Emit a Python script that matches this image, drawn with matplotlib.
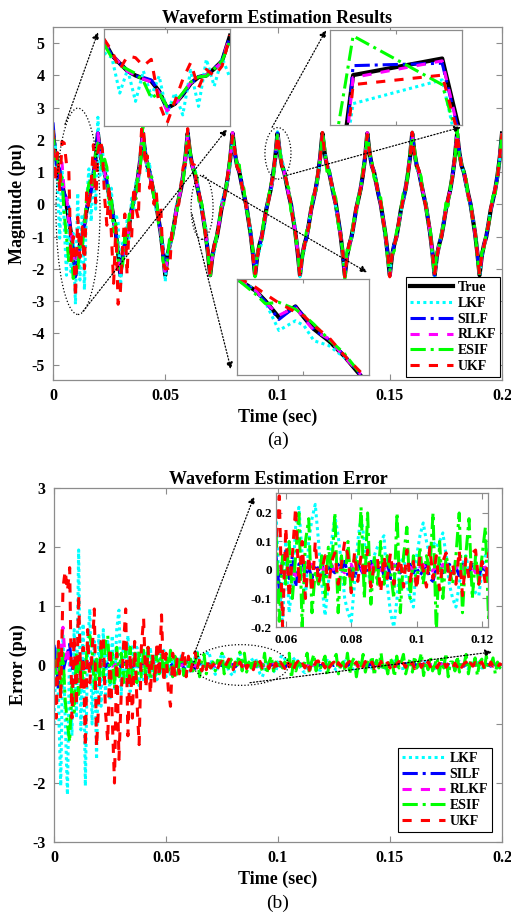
import matplotlib
matplotlib.use("Agg")
import matplotlib.pyplot as plt
import numpy as np
from matplotlib.patches import Ellipse

plt.rcParams['font.family'] = ['Liberation Serif', 'DejaVu Serif']
plt.rcParams['font.weight'] = 'bold'
plt.rcParams['axes.labelweight'] = 'bold'
plt.rcParams['axes.titleweight'] = 'bold'
plt.rcParams['axes.unicode_minus'] = False

# sample times (s), 1 ms step
t = np.round(np.arange(201) * 0.001, 3)

true_wave = [
    2.2, 1.6, 1.2, 1.0, 0.65, 0.3, 0.0, -0.45, -0.9, -1.5,
    -2.2, -1.6, -1.25, -1.0, -0.6, -0.16, 0.15, 0.47, 0.9, 1.45,
    2.2, 1.6, 1.2, 1.0, 0.65, 0.3, 0.0, -0.45, -0.9, -1.5,
    -2.2, -1.6, -1.25, -1.0, -0.6, -0.16, 0.15, 0.47, 0.9, 1.45,
    2.2, 1.6, 1.2, 1.0, 0.65, 0.3, 0.0, -0.45, -0.9, -1.5,
    -2.2, -1.6, -1.25, -1.0, -0.6, -0.16, 0.15, 0.47, 0.9, 1.45,
    2.2, 1.6, 1.2, 1.0, 0.65, 0.3, 0.0, -0.45, -0.9, -1.5,
    -2.2, -1.6, -1.25, -1.0, -0.6, -0.16, 0.15, 0.47, 0.9, 1.45,
    2.2, 1.6, 1.2, 1.0, 0.65, 0.3, 0.0, -0.45, -0.9, -1.5,
    -2.2, -1.6, -1.25, -1.0, -0.6, -0.16, 0.15, 0.47, 0.9, 1.45,
    2.2, 1.6, 1.2, 1.0, 0.65, 0.3, 0.0, -0.45, -0.9, -1.5,
    -2.2, -1.6, -1.25, -1.0, -0.6, -0.16, 0.15, 0.47, 0.9, 1.45,
    2.2, 1.6, 1.2, 1.0, 0.65, 0.3, 0.0, -0.45, -0.9, -1.5,
    -2.2, -1.6, -1.25, -1.0, -0.6, -0.16, 0.15, 0.47, 0.9, 1.45,
    2.2, 1.6, 1.2, 1.0, 0.65, 0.3, 0.0, -0.45, -0.9, -1.5,
    -2.2, -1.6, -1.25, -1.0, -0.6, -0.16, 0.15, 0.47, 0.9, 1.45,
    2.2, 1.6, 1.2, 1.0, 0.65, 0.3, 0.0, -0.45, -0.9, -1.5,
    -2.2, -1.6, -1.25, -1.0, -0.6, -0.16, 0.15, 0.47, 0.9, 1.45,
    2.2, 1.6, 1.2, 1.0, 0.65, 0.3, 0.0, -0.45, -0.9, -1.5,
    -2.2, -1.6, -1.25, -1.0, -0.6, -0.16, 0.15, 0.47, 0.9, 1.45,
    2.2,
]

# estimation error of each filter (pu)
err_lkf = [
    -1.0, 0.3, -0.6, -2.05, 0.5, -0.9, -2.2, 0.4, -1.2, 0.6,
    -0.9, 1.95, -1.1, 0.7, -2.05, 0.3, 0.95, -1.0, 0.4, -1.6,
    0.5, -0.7, 0.6, -0.5, 0.4, -0.6, 0.5, -0.4, 0.6, 0.93,
    -0.5, 0.4, -0.3, 0.5, -0.45, 0.35, -0.3, 0.3, -0.35, 0.25,
    -0.3, 0.2, -0.25, 0.3, -0.2, 0.15, -0.25, 0.2, -0.15, 0.25,
    -0.2, 0.15, -0.2, 0.1, -0.15, 0.15, -0.1, 0.2, -0.05, -0.2,
    0.1, -0.15, -0.05, 0.15, 0.22, 0.05, -0.1, 0.1, 0.18, 0.23,
    0.1, -0.05, -0.16, -0.05, 0.1, 0.19, 0.12, 0.02, -0.1, -0.15,
    -0.18, -0.05, 0.1, 0.19, 0.1, 0.0, -0.05, 0.05, 0.08, 0.1,
    0.12, -0.05, -0.15, -0.2, -0.1, 0.02, 0.05, -0.05, -0.1, -0.13,
    0.05, 0.12, 0.165, 0.1, 0.05, 0.1, 0.08, 0.1, 0.13, 0.05,
    -0.05, -0.1, -0.13, -0.05, 0.02, 0.05, 0.0, -0.05, -0.08, -0.09,
    0.0, 0.05, 0.08, 0.06, 0.0, -0.05, -0.08, -0.06, 0.0, 0.04,
    0.07, 0.05, -0.02, -0.06, -0.07, -0.03, 0.03, 0.06, 0.05, 0.0,
    -0.05, -0.07, -0.04, 0.02, 0.06, 0.07, 0.03, -0.03, -0.06, -0.05,
    0.0, 0.05, 0.07, 0.04, -0.02, -0.06, -0.06, -0.01, 0.04, 0.06,
    0.04, -0.01, -0.05, -0.07, -0.03, 0.03, 0.06, 0.05, 0.0, -0.04,
    -0.06, -0.04, 0.01, 0.05, 0.06, 0.02, -0.03, -0.06, -0.05, 0.0,
    0.04, 0.06, 0.03, -0.02, -0.05, -0.06, -0.02, 0.03, 0.05, 0.04,
    -0.01, -0.05, -0.05, -0.01, 0.03, 0.05, 0.03, -0.02, -0.04, -0.04,
    0.0,
]
err_silf = [
    0.34, 0.1, -0.4, 0.1, -0.1, 0.05, 0.2, 0.35, -0.1, 0.05,
    -0.05, 0.1, -0.08, 0.06, -0.05, 0.04, 0.02, -0.06, 0.05, -0.03,
    0.02, 0.04, 0.08, -0.03, 0.02, -0.04, 0.03, 0.01, -0.02, 0.03,
    -0.03, 0.02, 0.04, -0.02, 0.01, -0.03, 0.02, 0.0, -0.02, 0.03,
    0.02, 0.05, -0.02, 0.03, -0.01, 0.02, -0.03, 0.02, 0.01, -0.02,
    0.02, -0.01, 0.03, -0.02, 0.01, 0.0, 0.03, 0.05, -0.07, 0.04,
    0.07, -0.03, 0.05, -0.06, 0.02, 0.04, -0.02, 0.01, -0.03, 0.02,
    0.0, 0.02, -0.02, 0.01, 0.0, -0.01, 0.02, 0.0, 0.03, -0.02,
    0.01, -0.03, 0.02, 0.0, -0.02, 0.01, 0.03, -0.01, 0.0, 0.02,
    -0.02, 0.03, -0.03, -0.03, 0.02, -0.01, 0.01, 0.0, 0.02, -0.01,
    0.01, -0.02, 0.0, 0.02, -0.03, -0.04, 0.01, 0.02, -0.01, 0.0,
    0.02, -0.01, 0.01, -0.02, 0.02, 0.0, -0.01, 0.02, 0.01, -0.02,
    0.01, 0.0, -0.02, 0.02, 0.01, -0.01, 0.0, 0.02, -0.02, 0.01,
    0.0, -0.01, 0.02, 0.01, -0.02, 0.0, 0.01, -0.01, 0.02, 0.0,
    -0.02, 0.01, 0.0, 0.02, -0.01, 0.01, -0.02, 0.0, 0.01, 0.02,
    -0.01, 0.0, 0.02, -0.02, 0.01, 0.0, -0.01, 0.02, 0.0, -0.01,
    0.01, 0.02, -0.01, 0.0, 0.01, -0.02, 0.02, 0.0, -0.01, 0.01,
    0.0, -0.02, 0.01, 0.02, -0.01, 0.0, 0.01, -0.01, 0.02, 0.0,
    -0.01, 0.01, 0.0, -0.02, 0.02, 0.01, -0.01, 0.0, 0.01, -0.01,
    0.02, 0.0, -0.01, 0.01, 0.0, -0.02, 0.01, 0.0, 0.01, -0.01,
    0.0,
]
err_rlkf = [
    0.0, -0.1, 0.3, 0.2, 0.64, 0.1, 0.3, -0.05, 0.15, 0.0,
    0.05, -0.03, 0.04, 0.0, -0.02, 0.03, 0.01, -0.02, 0.02, 0.0,
    0.01, -0.02, 0.02, 0.0, -0.01, 0.02, -0.02, 0.01, 0.0, 0.02,
    -0.01, 0.01, 0.02, -0.02, 0.0, 0.01, -0.01, 0.02, -0.01, 0.0,
    0.02, -0.01, 0.0, 0.01, -0.02, 0.01, 0.02, -0.01, 0.0, 0.01,
    -0.02, 0.01, 0.0, 0.02, -0.01, 0.0, 0.01, -0.01, 0.02, 0.0,
    -0.01, 0.02, 0.0, -0.02, 0.01, 0.0, 0.01, -0.01, 0.02, -0.01,
    0.0, 0.01, -0.01, 0.0, 0.02, -0.01, 0.01, 0.0, -0.01, 0.01,
    0.02, -0.01, 0.0, 0.01, -0.02, 0.0, 0.01, 0.02, -0.01, 0.0,
    0.01, -0.01, 0.0, 0.02, -0.01, 0.01, 0.0, -0.02, 0.01, 0.0,
    -0.01, 0.01, 0.02, 0.0, -0.01, 0.0, 0.01, -0.01, 0.02, 0.0,
    0.0, -0.01, 0.01, 0.0, 0.02, -0.01, 0.0, 0.01, -0.01, 0.01,
    0.0, 0.01, -0.01, 0.02, 0.0, -0.01, 0.01, 0.0, -0.02, 0.01,
    0.01, 0.0, -0.01, 0.01, 0.02, -0.01, 0.0, 0.01, -0.01, 0.0,
    0.02, -0.01, 0.0, 0.01, -0.01, 0.0, 0.01, 0.02, -0.01, 0.0,
    -0.01, 0.01, 0.0, -0.02, 0.01, 0.0, 0.01, -0.01, 0.0, 0.02,
    0.0, -0.01, 0.01, 0.0, -0.01, 0.02, 0.0, -0.01, 0.01, 0.0,
    0.01, 0.0, -0.02, 0.01, 0.0, 0.01, -0.01, 0.0, 0.02, -0.01,
    0.0, 0.01, -0.01, 0.0, 0.01, -0.02, 0.01, 0.0, -0.01, 0.01,
    0.02, 0.0, -0.01, 0.01, 0.0, -0.01, 0.01, 0.02, -0.01, 0.0,
    0.0,
]
err_esif = [
    0.1, -0.2, 0.3, -0.4, 0.2, -0.6, -1.0, -1.3, -0.3, -0.8,
    0.2, -0.5, 0.1, -0.3, -0.1, 0.4, 0.5, 0.3, -0.4, 0.1,
    -0.3, 0.3, -0.2, 0.4, 0.5, -0.3, 0.2, -0.4, 0.3, -0.2,
    0.2, -0.3, 0.25, -0.2, 0.3, -0.25, 0.2, -0.3, 0.25, -0.2,
    0.25, -0.2, 0.3, -0.25, 0.2, -0.2, 0.25, -0.15, 0.2, -0.25,
    0.2, -0.15, 0.25, -0.2, 0.15, -0.2, 0.05, 0.14, -0.18, 0.05,
    -0.05, 0.1, -0.1, 0.05, 0.2, -0.2, 0.1, 0.18, -0.15, 0.0,
    -0.05, 0.05, -0.1, 0.08, 0.0, 0.2, -0.15, 0.05, -0.05, 0.1,
    -0.08, 0.05, 0.0, 0.22, -0.1, 0.2, -0.12, 0.05, -0.05, 0.1,
    -0.05, 0.05, 0.0, -0.1, 0.2, -0.15, 0.05, 0.15, -0.1, 0.05,
    -0.05, 0.08, -0.05, 0.05, 0.0, 0.2, -0.22, 0.1, -0.1, 0.05,
    0.0, -0.05, 0.05, 0.2, -0.15, 0.05, 0.18, -0.1, 0.05, -0.05,
    0.05, 0.15, -0.18, 0.05, -0.05, 0.1, 0.18, -0.15, 0.0, 0.05,
    -0.1, 0.2, -0.15, 0.05, 0.12, -0.2, 0.05, -0.05, 0.18, -0.12,
    0.05, 0.0, 0.15, -0.18, 0.08, -0.05, 0.2, -0.1, 0.05, -0.15,
    0.12, 0.05, -0.2, 0.15, -0.05, 0.05, 0.18, -0.15, 0.0, 0.1,
    -0.12, 0.15, -0.05, 0.05, 0.2, -0.18, 0.05, -0.08, 0.15, -0.1,
    0.0, 0.12, -0.15, 0.1, -0.05, 0.2, -0.2, 0.05, 0.05, -0.1,
    0.15, -0.12, 0.05, 0.0, 0.18, -0.15, 0.08, -0.05, 0.12, -0.18,
    0.05, 0.1, -0.1, 0.15, -0.05, 0.0, 0.12, -0.15, 0.05, -0.05,
    0.05,
]
err_ukf = [
    0.1, -0.9, 0.4, -0.6, 1.3, 1.6, 1.25, 1.65, -0.9, 0.5,
    -0.7, 1.2, -0.4, 0.3, -1.4, 0.6, -0.3, 0.2, 0.95, -1.4,
    -0.6, 0.4, 0.5, -0.8, -1.3, 0.3, -0.9, -2.0, 0.2, -1.6,
    -0.5, 0.3, 0.95, -1.2, 0.2, -0.9, 0.4, -0.6, -1.35, 0.3,
    0.8, -0.4, 0.3, -0.5, 0.2, -0.3, 0.4, -0.2, 0.85, -0.3,
    0.2, -0.4, -0.7, 0.2, -0.2, 0.1, -0.15, 0.1, 0.26, -0.2,
    0.15, -0.1, 0.05, 0.22, -0.05, 0.1, -0.1, 0.05, -0.08, 0.1,
    -0.05, 0.0, 0.05, -0.07, 0.03, 0.06, -0.05, 0.02, 0.1, 0.05,
    -0.08, 0.06, -0.04, 0.05, -0.03, 0.07, -0.06, 0.02, 0.04, -0.08,
    0.05, -0.03, 0.06, -0.05, 0.0, 0.04, -0.06, 0.07, -0.04, 0.03,
    -0.07, 0.05, 0.0, -0.06, 0.08, -0.03, 0.05, -0.07, 0.03, 0.06,
    -0.04, 0.02, -0.05, 0.07, -0.09, 0.04, -0.03, 0.06, 0.07, -0.05,
    0.03, -0.05, 0.06, -0.04, 0.02, 0.05, -0.06, 0.04, -0.02, 0.05,
    -0.05, 0.03, 0.06, -0.04, 0.0, 0.05, -0.06, 0.03, -0.03, 0.06,
    -0.04, 0.02, 0.05, -0.06, 0.04, -0.02, 0.06, -0.05, 0.01, 0.04,
    -0.05, 0.05, -0.03, 0.02, 0.06, -0.05, 0.03, -0.04, 0.05, -0.02,
    0.04, -0.06, 0.03, 0.05, -0.04, 0.02, -0.05, 0.06, -0.03, 0.02,
    0.05, -0.05, 0.03, -0.02, 0.06, -0.04, 0.02, 0.04, -0.05, 0.03,
    -0.03, 0.05, -0.04, 0.02, 0.05, -0.05, 0.03, -0.02, 0.04, -0.04,
    0.02, 0.05, -0.04, 0.03, -0.03, 0.05, -0.02, 0.03, -0.04, 0.02,
    0.0,
]

# zoomed views shown in the three insets of panel (a)
z1_t = [0.002, 0.003, 0.004, 0.005, 0.006, 0.007, 0.008, 0.009, 0.010,
        0.011, 0.012, 0.013, 0.014, 0.015, 0.016, 0.017, 0.018]
z1_true = [1.22, 0.5, 0.1, -0.28, -0.5, -0.65, -0.78, -1.28, -2.12,
           -1.9, -1.45, -0.9, -0.58, -0.5, -0.17, 0.22, 1.47]
z1_lkf = [0.63, 0.38, -1.37, -0.2, -1.78, -0.28, -1.53, -0.53, -2.37,
          -1.37, -2.45, -0.25, -2.03, 0.3, -1.03, 0.38, -0.62]
z1_silf = [1.2, 0.48, 0.08, -0.25, -0.52, -0.6, -0.72, -1.3, -2.1,
           -1.88, -1.42, -0.92, -0.55, -0.52, -0.15, 0.25, 1.45]
z1_rlkf = [1.22, 0.52, 0.12, -0.3, -0.48, -0.68, -0.82, -1.35, -2.25,
           -1.95, -1.4, -0.88, -0.6, -0.48, -0.2, 0.2, 1.5]
z1_esif = [1.05, 0.38, 0.0, -0.2, -0.4, -0.78, -1.62, -1.37, -2.03,
           -1.83, -1.37, -0.83, -0.57, -0.53, -0.17, 0.22, 1.22]
z1_ukf = [1.3, 0.72, -0.2, 0.47, 0.38, -0.03, 0.3, -1.87, -2.87,
          -1.78, -0.7, 0.13, -1.12, -0.2, -0.53, -0.03, 1.5]

z2_t = [0.09908, 0.09923, 0.09935, 0.10070, 0.10095]
z2_true = [1.70, 2.00, 2.26, 2.33, 2.04]
z2_lkf = [1.66, 1.92, 2.14, 2.24, 1.93]
z2_silf = [1.60, 1.93, 2.30, 2.31, 2.02]
z2_rlkf = [1.60, 1.92, 2.25, 2.32, 2.02]
z2_esif = [1.97, 2.22, 2.425, 2.22, 1.98]
z2_ukf = [1.55, 1.89, 2.22, 2.26, 2.00]

z3_t = [0.06405, 0.06456, 0.06486, 0.06527, 0.06577,
        0.06603, 0.06633, 0.06678, 0.06724, 0.06775]
z3_true = [0.59, 0.43, 0.28, 0.04, 0.2, 0.04, -0.13, -0.3, -0.52, -0.81]
z3_lkf = [0.6, 0.43, 0.26, -0.15, -0.01, -0.08, -0.3, -0.37, -0.54, -0.76]
z3_silf = [0.58, 0.42, 0.27, 0.01, 0.2, 0.06, -0.14, -0.28, -0.51, -0.8]
z3_rlkf = [0.59, 0.44, 0.26, 0.07, 0.19, 0.02, -0.15, -0.27, -0.53, -0.79]
z3_esif = [0.58, 0.38, 0.24, 0.26, 0.16, 0.07, -0.06, -0.28, -0.48, -0.79]
z3_ukf = [0.62, 0.48, 0.38, 0.25, 0.12, 0.06, -0.08, -0.25, -0.51, -0.76]

names = ['LKF', 'SILF', 'RLKF', 'ESIF', 'UKF']
errors = [err_lkf, err_silf, err_rlkf, err_esif, err_ukf]
colors = ['#00ffff', '#0000ff', '#ff00ff', '#00ff00', '#ff0000']
styles = [(0, (1, 1.1)), (0, (5, 1.6, 1, 1.6)), (0, (3, 3)),
          (0, (5, 1.6, 1, 1.6)), (0, (3, 3))]

W, H = 511, 913
GRAY = '0.55'


def px_axes(x0, y0, x1, y1):
    return [x0 / W, 1 - y1 / H, (x1 - x0) / W, (y1 - y0) / H]


def style_axes(ax, labelsize=11.5):
    for s in ax.spines.values():
        s.set_color(GRAY)
        s.set_linewidth(0.9)
    ax.tick_params(which='both', direction='in', top=True, right=True,
                   length=4, color=GRAY, labelsize=labelsize, pad=6)


def zoom_inset(rect, tz, series, xlim, ylim):
    ax = fig.add_axes(rect, zorder=5)
    ax.plot(tz, series[0], color='black', lw=3)
    for vals, c, ls in zip(series[1:], colors, styles):
        ax.plot(tz, vals, color=c, ls=ls, lw=2.2)
    ax.set_xlim(*xlim)
    ax.set_ylim(*ylim)
    ax.set_xticks([sum(xlim) / 2])
    ax.set_yticks([])
    ax.set_xticklabels([])
    for s in ax.spines.values():
        s.set_color(GRAY)
        s.set_linewidth(0.9)
    ax.tick_params(direction='in', top=True, length=3, color=GRAY)
    return ax


def pointer(ax, start, end):
    ax.annotate('', xy=end, xytext=start, annotation_clip=False,
                arrowprops=dict(arrowstyle='-|>', ls=':', lw=0.9, color='black',
                                shrinkA=0, shrinkB=0, mutation_scale=10))


fig = plt.figure(figsize=(W / 100, H / 100), dpi=100)

# ---------- (a) waveform estimation ----------
ax1 = fig.add_axes(px_axes(53, 27, 502, 380))
true_arr = np.array(true_wave)
ax1.plot(t, true_arr, color='black', lw=3, label='True')
for name, err, c, ls in zip(names, errors, colors, styles):
    ax1.plot(t, true_arr + np.array(err), color=c, ls=ls, lw=2.2, label=name)
ax1.set_xlim(0, 0.2)
ax1.set_ylim(-5.45, 5.5)
ax1.set_xticks([0, 0.05, 0.1, 0.15, 0.2])
ax1.set_xticklabels(['0', '0.05', '0.1', '0.15', '0.2'])
ax1.set_yticks(range(-5, 6))
style_axes(ax1)
ax1.set_title('Waveform Estimation Results', fontsize=13, pad=2)
ax1.set_xlabel('Time (sec)', fontsize=13, labelpad=3)
ax1.set_ylabel('Magnitude (pu)', fontsize=13, labelpad=4)
leg = ax1.legend(loc='lower right', bbox_to_anchor=(0.996, 0.008), borderaxespad=0,
                 fontsize=10, handlelength=3.1, handletextpad=0.3, labelspacing=0.2,
                 borderpad=0.3, fancybox=False, edgecolor='black', framealpha=1)
leg.get_frame().set_linewidth(0.8)
leg.set_zorder(10)

for (cx, cy, w, h) in [(0.01114, -0.217, 0.0196, 6.4), (0.1002, 1.58, 0.0116, 1.6),
                       (0.0664, -0.09, 0.0098, 1.99)]:
    ax1.add_patch(Ellipse((cx, cy), w, h, fill=False, ls=':', lw=0.9, ec='black', zorder=6))
pointer(ax1, (0.00535, 2.48), (0.02004, 5.34))
pointer(ax1, (0.01336, -3.32), (0.0775, 2.33))
pointer(ax1, (0.0976, 2.39), (0.1216, 5.40))
pointer(ax1, (0.1042, 0.90), (0.1817, 2.39))
pointer(ax1, (0.0664, 0.87), (0.1399, -2.11))
pointer(ax1, (0.0619, -0.31), (0.0793, -5.12))

zoom_inset(px_axes(104, 29, 230, 126), z1_t,
           [z1_true, z1_lkf, z1_silf, z1_rlkf, z1_esif, z1_ukf], (0.002, 0.018), (-3.0, 1.8))
zoom_inset(px_axes(330, 30, 462, 125), z2_t,
           [z2_true, z2_lkf, z2_silf, z2_rlkf, z2_esif, z2_ukf], (0.0990, 0.1010), (2.05, 2.45))
zoom_inset(px_axes(237, 279, 369, 375), z3_t,
           [z3_true, z3_lkf, z3_silf, z3_rlkf, z3_esif, z3_ukf], (0.064, 0.068), (-0.8, 0.6))

fig.text(277.5 / W, 1 - 440 / H, '(a)', ha='center', va='center', fontsize=14,
         fontweight='normal')

# ---------- (b) estimation error ----------
ax2 = fig.add_axes(px_axes(54, 488, 502, 842))
for name, err, c, ls in zip(names, errors, colors, styles):
    ax2.plot(t, err, color=c, ls=ls, lw=2.2, label=name)
ax2.set_xlim(0, 0.2)
ax2.set_ylim(-3, 3)
ax2.set_xticks([0, 0.05, 0.1, 0.15, 0.2])
ax2.set_xticklabels(['0', '0.05', '0.1', '0.15', '0.2'])
ax2.set_yticks(range(-3, 4))
style_axes(ax2)
ax2.set_title('Waveform Estimation Error', fontsize=13, pad=2)
ax2.set_xlabel('Time (sec)', fontsize=13, labelpad=3)
ax2.set_ylabel('Error (pu)', fontsize=13, labelpad=4)
leg2 = ax2.legend(loc='lower right', bbox_to_anchor=(0.978, 0.028), borderaxespad=0,
                  fontsize=10, handlelength=3.1, handletextpad=0.3, labelspacing=0.2,
                  borderpad=0.3, fancybox=False, edgecolor='black', framealpha=1)
leg2.get_frame().set_linewidth(0.8)

ax2.add_patch(Ellipse((0.0835, 0.0), 0.0424, 0.69, fill=False, ls=':', lw=0.9,
                      ec='black', zorder=6))
pointer(ax2, (0.0629, 0.22), (0.0893, 2.855))
pointer(ax2, (0.0875, -0.30), (0.1955, 0.22))

ax3 = fig.add_axes(px_axes(276, 493, 488, 627), zorder=5)
for err, c, ls in zip(errors, colors, styles):
    ax3.plot(t, err, color=c, ls=ls, lw=2.2)
ax3.set_xlim(0.057, 0.1218)
ax3.set_ylim(-0.2, 0.27)
ax3.set_xticks([0.06, 0.08, 0.1, 0.12])
ax3.set_xticklabels(['0.06', '0.08', '0.1', '0.12'])
ax3.set_yticks([-0.2, -0.1, 0, 0.1, 0.2])
ax3.set_yticklabels(['-0.2', '-0.1', '0', '0.1', '0.2'])
style_axes(ax3, labelsize=9.5)
ax3.tick_params(axis='y', pad=3)
ax3.tick_params(axis='x', pad=5)

fig.text(277.5 / W, 1 - 903 / H, '(b)', ha='center', va='center', fontsize=14,
         fontweight='normal')

fig.savefig('out.png', dpi=100)
